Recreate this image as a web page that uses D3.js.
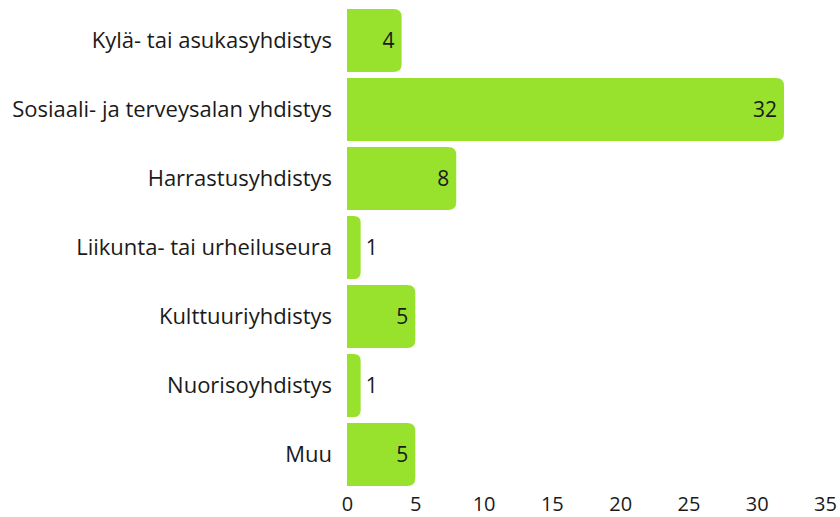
<!doctype html>
<html lang="fi">
<head>
<meta charset="utf-8">
<script src="https://cdn.jsdelivr.net/npm/d3@7"></script>
<style>
  html, body { margin: 0; background: #fff; }
  svg { display: block; font-family: "Open Sans", "Noto Sans", sans-serif; }
</style>
</head>
<body>
<div id="chart"></div>
<script>
const categories = [
  "Kylä- tai asukasyhdistys",
  "Sosiaali- ja terveysalan yhdistys",
  "Harrastusyhdistys",
  "Liikunta- tai urheiluseura",
  "Kulttuuriyhdistys",
  "Nuorisoyhdistys",
  "Muu"
];
const values = [4, 32, 8, 1, 5, 1, 5];
const ticks = [0, 5, 10, 15, 20, 25, 30, 35];

const width = 840, height = 517;
const barColor = "#98e22e";
const textColor = "#1a1a1a";

const x = d3.scaleLinear().domain([0, 35]).range([347, 825]);
const y = d3.scaleBand()
    .domain(categories)
    .range([6, 489])
    .paddingInner(6 / 69)
    .paddingOuter(3 / 69);

const svg = d3.select("#chart").append("svg")
    .attr("width", width)
    .attr("height", height);

const data = categories.map((c, i) => ({ name: c, value: values[i] }));

// bar with rounded right corners only
function barPath(d) {
  const x0 = x(0), x1 = x(d.value), y0 = y(d.name), h = y.bandwidth();
  const r = Math.min(8, (x1 - x0) / 2);
  return `M${x0},${y0}H${x1 - r}Q${x1},${y0} ${x1},${y0 + r}` +
         `V${y0 + h - r}Q${x1},${y0 + h} ${x1 - r},${y0 + h}H${x0}Z`;
}

svg.append("g")
  .selectAll("path")
  .data(data)
  .join("path")
    .attr("d", barPath)
    .attr("fill", barColor);

// category labels
svg.append("g")
  .selectAll("text")
  .data(data)
  .join("text")
    .attr("x", 332)
    .attr("y", d => y(d.name) + y.bandwidth() / 2)
    .attr("dy", "0.35em")
    .attr("text-anchor", "end")
    .attr("font-size", 22)
    .attr("fill", textColor)
    .text(d => d.name);

// value labels
svg.append("g")
  .selectAll("text")
  .data(data)
  .join("text")
    .attr("x", d => d.value >= 3 ? x(d.value) - 7 : x(d.value) + 5)
    .attr("y", d => y(d.name) + y.bandwidth() / 2)
    .attr("dy", "0.35em")
    .attr("text-anchor", d => d.value >= 3 ? "end" : "start")
    .attr("font-size", 21)
    .attr("fill", textColor)
    .text(d => d.value);

// x axis
const axis = svg.append("g")
    .attr("transform", "translate(0,493)")
    .call(d3.axisBottom(x).tickValues(ticks).tickSize(0).tickPadding(4));
axis.select(".domain").remove();
axis.selectAll("text")
    .attr("font-size", 20)
    .attr("font-family", "\"Open Sans\", \"Noto Sans\", sans-serif")
    .attr("fill", textColor);
</script>
</body>
</html>
